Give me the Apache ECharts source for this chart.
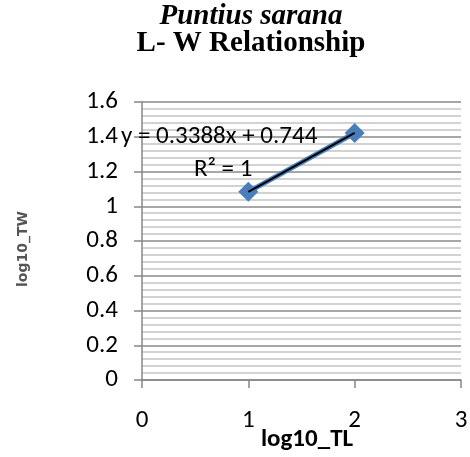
<!DOCTYPE html>
<html><head><meta charset="utf-8">
<script src="https://cdn.jsdelivr.net/npm/echarts@6/dist/echarts.min.js"></script>
<style>html,body{margin:0;padding:0;background:#fff}#c{width:470px;height:457px}</style>
</head><body><div id="c"></div>
<script>
const logTL = [1, 2];
const logTW = [1.0828, 1.4216];
const xTicks = [0, 1, 2, 3];
const yTicks = [0, 0.2, 0.4, 0.6, 0.8, 1, 1.2, 1.4, 1.6];
const equationText = 'y = 0.3388x + 0.744';
const r2Text = 'R² = 1';
const titleLine1 = 'Puntius sarana';
const titleLine2 = 'L- W Relationship';
const xName = 'log10_TL';
const yName = 'log10_TW';

const pts = logTL.map((x, i) => [x, logTW[i]]);
const chart = echarts.init(document.getElementById('c'));
const fontTick = 'Carlito, "Open Sans", "Liberation Sans", sans-serif';
chart.setOption({
  animation: false,
  grid: {left: 142, right: 9, top: 102, bottom: 77, containLabel: false, outerBoundsMode: 'none'},
  xAxis: {
    type: 'value', min: xTicks[0], max: xTicks[xTicks.length - 1], interval: 1,
    axisLine: {show: true, onZero: false, lineStyle: {color: '#878787', width: 1.5}},
    axisTick: {show: true, length: 8, lineStyle: {color: '#878787', width: 1.5}},
    axisLabel: {margin: 28, fontFamily: fontTick, fontSize: 25, color: '#000'},
    splitLine: {show: false}
  },
  yAxis: {
    type: 'value', min: yTicks[0], max: yTicks[yTicks.length - 1], interval: 0.2,
    axisLine: {show: true, onZero: false, lineStyle: {color: '#878787', width: 1.5}},
    axisTick: {show: true, length: 8, lineStyle: {color: '#878787', width: 1.5}},
    axisLabel: {margin: 24, fontFamily: fontTick, fontSize: 25, color: '#000', formatter: v => String(+v.toFixed(1))},
    splitLine: {show: true, lineStyle: {color: '#8a8a8a', width: 1.5}},
    minorTick: {show: false, splitNumber: 5},
    minorSplitLine: {show: true, lineStyle: {color: '#c4c4c4', width: 1.5}}
  },
  series: [
    {type: 'line', data: pts, symbol: 'diamond', symbolSize: 20,
     itemStyle: {color: '#4a7ebb'}, lineStyle: {color: '#4a7ebb', width: 5}, z: 2},
    {type: 'line', data: pts, symbol: 'none', lineStyle: {color: '#000', width: 2}, z: 3}
  ],
  graphic: [
    {type: 'text', x: 251, y: 2, style: {text: titleLine1, font: 'italic bold 29px "Liberation Serif", serif', fill: '#000', align: 'center', verticalAlign: 'top'}, z: 10},
    {type: 'text', x: 251, y: 29, style: {text: titleLine2, font: 'bold 29px "Liberation Serif", serif', fill: '#000', align: 'center', verticalAlign: 'top'}, z: 10},
    {type: 'text', left: 121, top: 124, style: {text: equationText, font: '25px ' + fontTick, fill: '#000'}, z: 10},
    {type: 'text', left: 194, top: 157, style: {text: r2Text, font: '25px ' + fontTick, fill: '#000'}, z: 10},
    {type: 'text', x: 307, y: 427, style: {text: xName, font: 'bold 25px ' + fontTick, fill: '#000', align: 'center', verticalAlign: 'top'}, z: 10},
    {type: 'text', x: 23, y: 249, rotation: Math.PI / 2,
     style: {text: yName, font: 'bold 14px "DejaVu Sans", sans-serif', fill: '#555', align: 'center', verticalAlign: 'middle'}, z: 10}
  ]
});
</script></body></html>
